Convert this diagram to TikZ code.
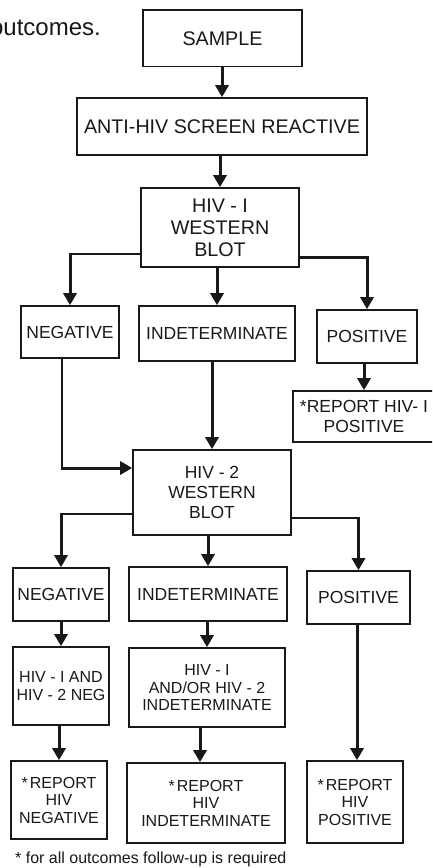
\documentclass[tikz,border=0pt]{standalone}
\usepackage{fontspec}
\setmainfont{Liberation Sans}
\usetikzlibrary{arrows.meta}
\definecolor{ink}{HTML}{1A1818}
\begin{document}
\begin{tikzpicture}[x=1pt,y=-1pt,
 box/.style={draw=ink, line width=1.6pt, inner sep=0pt, align=center, text=ink},
 big/.style={font=\fontsize{19.7}{22}\selectfont},
 mid/.style={font=\fontsize{17.5}{20}\selectfont},
 small/.style={font=\fontsize{16}{17.5}\selectfont},
 thinl/.style={draw=ink, line width=1.6pt},
 arr/.style={draw=ink, line width=3pt, -{Triangle[width=13pt,length=12pt]}},
]
\useasboundingbox (0,0) rectangle (432,868);
\clip (0,0) rectangle (432,868);
\fill[white] (0,0) rectangle (432,868);

% stray text at top left
\node[anchor=base east, inner sep=0pt, text=ink, font=\fontsize{24}{28}\selectfont] (outc) at (101,35) {outcomes.};

% boxes
\node[box, big, minimum width=159pt, minimum height=56.5pt] (sample) at (222.5,38.25) {SAMPLE};
\node[box, big, minimum width=290pt, minimum height=57pt] (anti) at (222,126.5) {ANTI-HIV SCREEN REACTIVE};
\node[box, big, minimum width=158pt, minimum height=79pt] (wb1) at (220,227.5) {HIV - I\\WESTERN\\BLOT};

\node[box, mid, minimum width=98pt, minimum height=52pt] (neg1) at (70,332) {NEGATIVE};
\node[box, mid, minimum width=156pt, minimum height=55pt] (ind1) at (217,333.5) {INDETERMINATE};
\node[box, mid, minimum width=100pt, minimum height=53pt] (pos1) at (367,336.5) {POSITIVE};
\node[box, mid, minimum width=142pt, minimum height=51pt] (rep1) at (364,416.5) {*REPORT HIV- I\\POSITIVE};

\node[box, mid, minimum width=158pt, minimum height=85pt] (wb2) at (212,492.5) {HIV - 2\\WESTERN\\BLOT};

\node[box, mid, minimum width=96pt, minimum height=53pt] (neg2) at (61,594.5) {NEGATIVE};
\node[box, mid, minimum width=158pt, minimum height=54pt] (ind2) at (208,594) {INDETERMINATE};
\node[box, mid, minimum width=103pt, minimum height=53pt] (pos2) at (358.5,597.5) {POSITIVE};

\node[box, small, minimum width=96pt, minimum height=78pt] (and1) at (61,686) {HIV - I AND\\HIV - 2 NEG};
\node[box, small, minimum width=156pt, minimum height=79pt] (and2) at (207,687.5) {HIV - I\\AND/OR HIV - 2\\INDETERMINATE};

\node[box, small, minimum width=96pt, minimum height=78pt] (rn) at (59,800) {*\hspace{2pt}REPORT\\HIV\\NEGATIVE};
\node[box, small, minimum width=158pt, minimum height=80pt] (ri) at (206,803) {*\hspace{2pt}REPORT\\HIV\\INDETERMINATE};
\node[box, small, minimum width=96pt, minimum height=82pt] (rp) at (355,802) {*\hspace{2pt}REPORT\\HIV\\POSITIVE};

\node[anchor=west, inner sep=0pt, text=ink, small] (foot) at (15,859) {* for all outcomes follow-up is required};

% connectors
\draw[arr] (sample.south -| anti.north) -- (anti.north);
\draw[arr] (anti.south -| wb1.north) -- (wb1.north);

\coordinate (l1) at ([yshift=14pt]wb1.south west);
\coordinate (l1c) at (l1 -| neg1.north);
\draw[thinl] (l1) -- (l1c);
\draw[arr] ([yshift=0.8pt]l1c) -- (neg1.north);

\draw[arr] (wb1.south -| ind1.north) -- (ind1.north);

\coordinate (r1) at ([yshift=10pt]wb1.south east);
\draw[arr] (r1) -- (r1 -| pos1.north) -- (pos1.north);

\draw[arr] (pos1.south -| rep1.north) -- (rep1.north);

\coordinate (n1) at ([xshift=-8pt]neg1.south);
\coordinate (w2l) at ([yshift=24.5pt]wb2.west);
\draw[thinl] (n1) -- (n1 |- w2l);
\draw[arr] ([xshift=-0.8pt]n1 |- w2l) -- (w2l);

\draw[arr] (ind1.south -| wb2.north) -- (wb2.north);

\coordinate (l2) at ([yshift=22pt]wb2.south west);
\coordinate (l2c) at (l2 -| neg2.north);
\draw[thinl] (l2) -- (l2c);
\draw[arr] ([yshift=0.8pt]l2c) -- (neg2.north);

\draw[arr] (wb2.south -| ind2.north) -- (ind2.north);

\coordinate (r2) at ([yshift=18pt]wb2.south east);
\coordinate (r2c) at (r2 -| pos2.north);
\draw[thinl] (r2) -- (r2c);
\draw[arr] ([yshift=0.8pt]r2c) -- (pos2.north);

\draw[arr] (neg2.south) -- (and1.north);
\draw[arr] (and1.south -| rn.north) -- (rn.north);
\draw[arr] (ind2.south -| and2.north) -- (and2.north);
\coordinate (a2) at ([xshift=-7pt]and2.south);
\draw[arr] (a2) -- (a2 |- ri.north);
\coordinate (p2) at ([xshift=2pt]rp.north);
\draw[arr] (p2 |- pos2.south) -- (p2);
\end{tikzpicture}
\end{document}
